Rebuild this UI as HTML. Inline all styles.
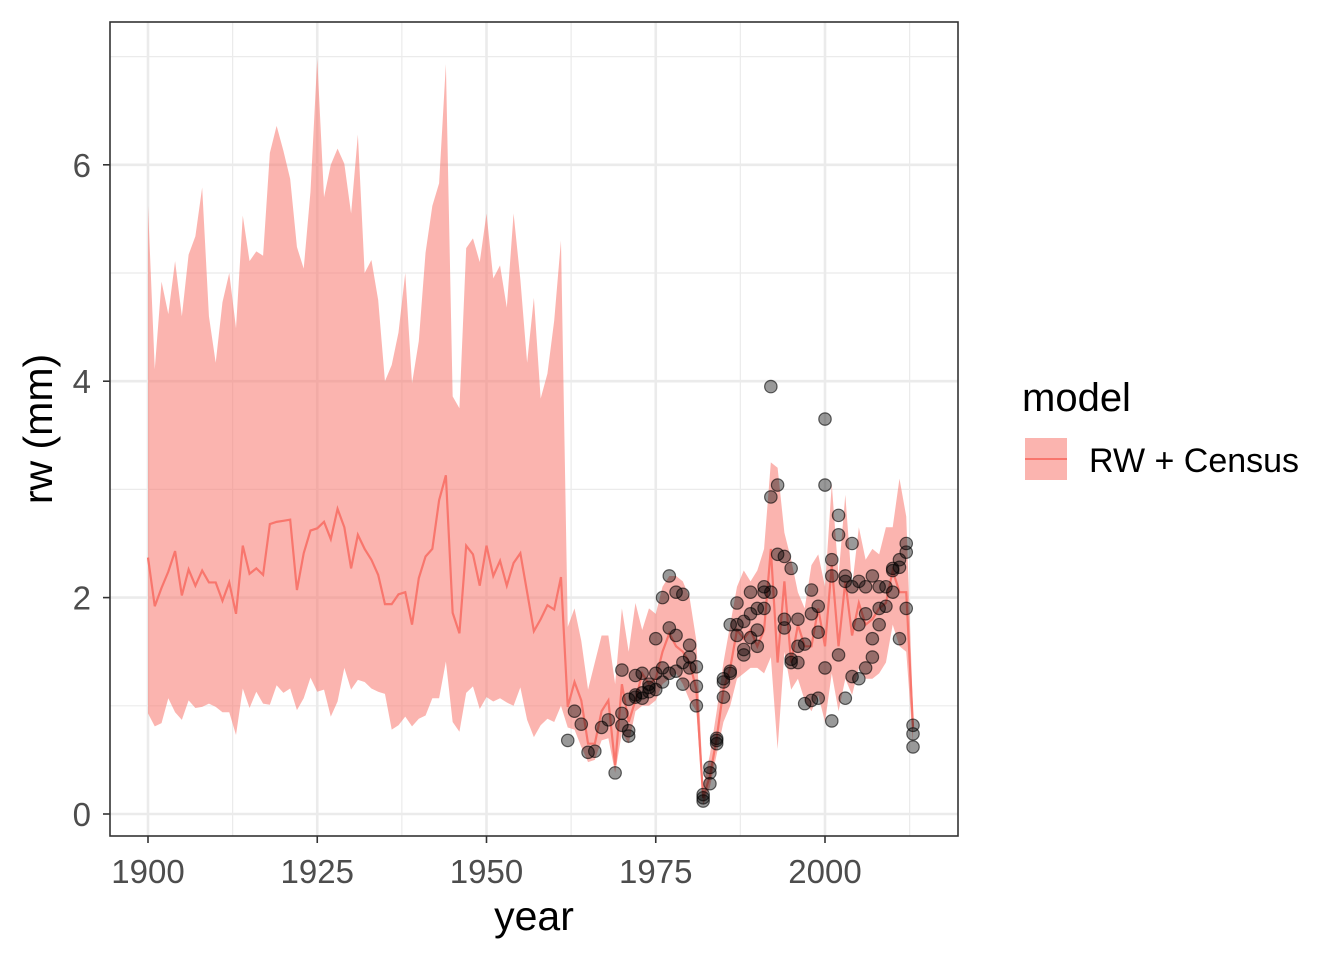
<!DOCTYPE html>
<html><head><meta charset="utf-8"><style>
body{margin:0;background:#fff;}
svg{display:block;font-family:"Liberation Sans",Arial,sans-serif;}
</style></head><body>
<svg id="chart" width="1344" height="960" xmlns="http://www.w3.org/2000/svg">
<g id="grid"></g>
<g id="band"></g>
<g id="line"></g>
<g id="pts"></g>
<rect x="110" y="22" width="848" height="814" fill="none" stroke="#333" stroke-width="1.6"/>
<g id="axes"></g>
<text x="534" y="930" font-size="41" text-anchor="middle" fill="#000">year</text>
<text transform="translate(52,429) rotate(-90)" font-size="41" text-anchor="middle" fill="#000">rw (mm)</text>
<g>
<text x="1022" y="411" font-size="40" fill="#000">model</text>
<rect x="1025" y="438" width="42" height="42" fill="#F8766D" fill-opacity="0.55"/>
<line x1="1025" y1="459" x2="1067" y2="459" stroke="#F8766D" stroke-width="2"/>
<text x="1089" y="472" font-size="34" fill="#000">RW + Census</text>
</g>
</svg>
<script>
const years=[];for(let y=1900;y<=2013;y++)years.push(y);
const upper=[5.62,4.11,4.92,4.62,5.11,4.60,5.17,5.34,5.79,4.60,4.17,4.73,5.00,4.49,5.53,5.11,5.20,5.16,6.11,6.36,6.13,5.87,5.24,5.04,5.75,6.98,5.70,6.00,6.15,6.01,5.55,6.28,5.00,5.12,4.75,4.00,4.15,4.45,5.00,3.98,4.37,5.19,5.62,5.83,6.93,3.86,3.75,5.23,5.32,5.10,5.55,4.95,5.07,4.68,5.55,4.94,4.17,4.77,3.84,4.07,4.56,5.30,
1.73,1.9,1.6,1.15,1.4,1.65,1.65,1.2,1.9,1.5,1.95,1.7,1.9,1.85,2.1,2.2,2.2,2.15,2.0,1.6,0.25,0.55,0.95,1.4,1.75,2.1,2.25,2.15,2.25,2.45,3.25,3.2,2.6,2.35,2.05,1.9,2.3,2.4,2.1,3.05,2.2,2.95,2.1,2.65,2.35,2.45,2.4,2.65,2.65,3.1,2.75,0.95];
const mean=[2.37,1.92,2.09,2.24,2.43,2.02,2.26,2.11,2.25,2.14,2.14,1.97,2.14,1.85,2.48,2.22,2.27,2.21,2.68,2.70,2.71,2.72,2.07,2.41,2.62,2.64,2.70,2.54,2.82,2.65,2.27,2.58,2.45,2.35,2.21,1.94,1.94,2.03,2.05,1.75,2.18,2.38,2.45,2.90,3.13,1.86,1.67,2.48,2.40,2.11,2.48,2.20,2.34,2.11,2.32,2.41,2.05,1.69,1.80,1.93,1.89,2.19,
0.99,1.22,1.05,0.65,0.65,0.95,1.05,0.45,1.2,0.85,1.05,1.3,1.2,1.25,1.5,1.67,1.55,1.5,1.4,1.15,0.15,0.35,0.7,1.15,1.35,1.7,1.62,1.7,1.55,1.7,2.45,1.4,2.15,1.4,1.75,1.55,1.55,1.9,1.55,2.3,1.55,2.15,1.65,1.95,1.75,1.8,1.9,1.95,2.25,2.05,2.05,0.8];
const lower=[0.93,0.81,0.84,1.07,0.94,0.87,1.05,0.98,0.99,1.02,0.99,0.94,0.94,0.73,1.16,0.98,1.13,1.02,1.01,1.19,1.12,1.16,0.96,1.07,1.26,1.13,1.15,0.90,1.04,1.35,1.15,1.24,1.22,1.16,1.13,1.11,0.78,0.82,0.90,0.81,0.88,0.91,1.07,1.07,1.41,0.85,0.76,1.12,1.18,0.97,1.08,1.04,1.07,1.03,1.00,1.17,0.87,0.71,0.82,0.88,0.85,1.00,
0.8,0.78,0.62,0.48,0.5,0.68,0.7,0.38,0.75,0.65,0.95,1.0,1.0,1.05,1.2,1.25,1.3,1.2,1.05,0.95,0.08,0.25,0.55,0.85,1.0,1.25,1.3,1.35,1.35,1.3,1.45,0.6,1.5,1.15,1.25,1.05,0.95,1.1,0.85,1.3,0.95,1.25,1.1,1.35,1.25,1.25,1.3,1.4,1.75,1.55,1.5,0.65];
const obsYears=[1962,1963,1964,1965,1966,1967,1968,1969,1970,1970,1970,1971,1971,1971,1972,1972,1972,1973,1973,1973,1974,1974,1974,1975,1975,1975,1976,1976,1976,1977,1977,1977,1978,1978,1978,1979,1979,1979,1980,1980,1980,1981,1981,1981,1982,1982,1982,1983,1983,1983,1984,1984,1984,1985,1985,1985,1986,1986,1986,1987,1987,1987,1988,1988,1988,1989,1989,1989,1990,1990,1990,1991,1991,1991,1992,1992,1992,1993,1993,1994,1994,1994,1995,1995,1995,1996,1996,1996,1997,1997,1998,1998,1998,1999,1999,1999,2000,2000,2000,2001,2001,2001,2002,2002,2002,2003,2003,2003,2004,2004,2004,2005,2005,2005,2006,2006,2006,2007,2007,2007,2008,2008,2008,2009,2009,2010,2010,2010,2011,2011,2011,2012,2012,2012,2013,2013,2013];
const obsVals=[0.68,0.95,0.83,0.57,0.58,0.80,0.87,0.38,1.33,0.82,0.93,1.06,0.72,0.77,1.08,1.28,1.10,1.30,1.12,1.07,1.13,1.17,1.20,1.62,1.30,1.15,2.00,1.22,1.35,2.20,1.72,1.30,2.05,1.65,1.32,2.03,1.40,1.20,1.56,1.45,1.35,1.36,1.18,1.00,0.15,0.12,0.18,0.28,0.38,0.43,0.70,0.65,0.68,1.25,1.08,1.22,1.75,1.32,1.30,1.95,1.65,1.75,1.47,1.52,1.78,2.05,1.63,1.85,1.90,1.70,1.55,2.10,1.90,2.05,3.95,2.93,2.05,3.04,2.40,2.38,1.80,1.72,2.27,1.43,1.40,1.80,1.40,1.55,1.02,1.57,2.07,1.85,1.05,1.92,1.68,1.07,3.65,3.04,1.35,2.35,2.20,0.86,2.76,2.58,1.47,2.15,2.20,1.07,2.50,2.10,1.27,2.15,1.75,1.25,2.10,1.85,1.35,2.20,1.62,1.45,2.10,1.90,1.75,2.10,1.92,2.27,2.25,2.05,2.35,2.28,1.62,2.50,2.42,1.90,0.82,0.74,0.62];
const xTicks=[1900,1925,1950,1975,2000];
const yTicks=[0,2,4,6];
const X=v=>148+(v-1900)*6.77;
const Y=v=>814-v*108.2;
const NS="http://www.w3.org/2000/svg";
function mk(tag,parent,attrs){const e=document.createElementNS(NS,tag);for(const k in attrs)e.setAttribute(k,attrs[k]);parent.appendChild(e);return e;}
const grid=document.getElementById('grid');
[1912.5,1937.5,1962.5,1987.5,2012.5].forEach(v=>{const l=mk('line',grid,{x1:X(v),x2:X(v),y1:22,y2:836,stroke:'#ebebeb','stroke-width':1.2});

});
[1,3,5,7].forEach(v=>{const l=mk('line',grid,{x1:110,x2:958,y1:Y(v),y2:Y(v),stroke:'#ebebeb','stroke-width':1.2});

});
const axes=document.getElementById('axes');
xTicks.forEach(v=>{const l=mk('line',grid,{x1:X(v),x2:X(v),y1:22,y2:836,stroke:'#ebebeb','stroke-width':2.6});


const t=mk('line',axes,{x1:X(v),x2:X(v),y1:836,y2:843,stroke:'#333','stroke-width':1.6});


const tx=mk('text',axes,{x:X(v),y:883,'font-size':33,'text-anchor':'middle',fill:'#4d4d4d'});tx.textContent=v;

});
yTicks.forEach(v=>{const l=mk('line',grid,{x1:110,x2:958,y1:Y(v),y2:Y(v),stroke:'#ebebeb','stroke-width':2.6});


const t=mk('line',axes,{x1:103,x2:110,y1:Y(v),y2:Y(v),stroke:'#333','stroke-width':1.6});


const tx=mk('text',axes,{x:91,y:Y(v)+12,'font-size':33,'text-anchor':'end',fill:'#4d4d4d'});tx.textContent=v;

});
let d='M'+years.map((y,i)=>X(y)+','+Y(upper[i])).join('L');
for(let i=years.length-1;i>=0;i--)d+='L'+X(years[i])+','+Y(lower[i]);
const band=mk('path',document.getElementById('band'),{d:d+'Z',fill:'#F8766D','fill-opacity':0.55});


const ln=mk('polyline',document.getElementById('line'),{points:years.map((y,i)=>X(y)+','+Y(mean[i])).join(' '),fill:'none',stroke:'#F8766D','stroke-width':2.2});


const pts=document.getElementById('pts');
obsYears.forEach((y,i)=>{const c=mk('circle',pts,{cx:X(y),cy:Y(obsVals[i]),r:6.2,fill:'rgba(0,0,0,0.4)',stroke:'rgba(0,0,0,0.6)','stroke-width':1.2});

});
</script>
</body></html>
